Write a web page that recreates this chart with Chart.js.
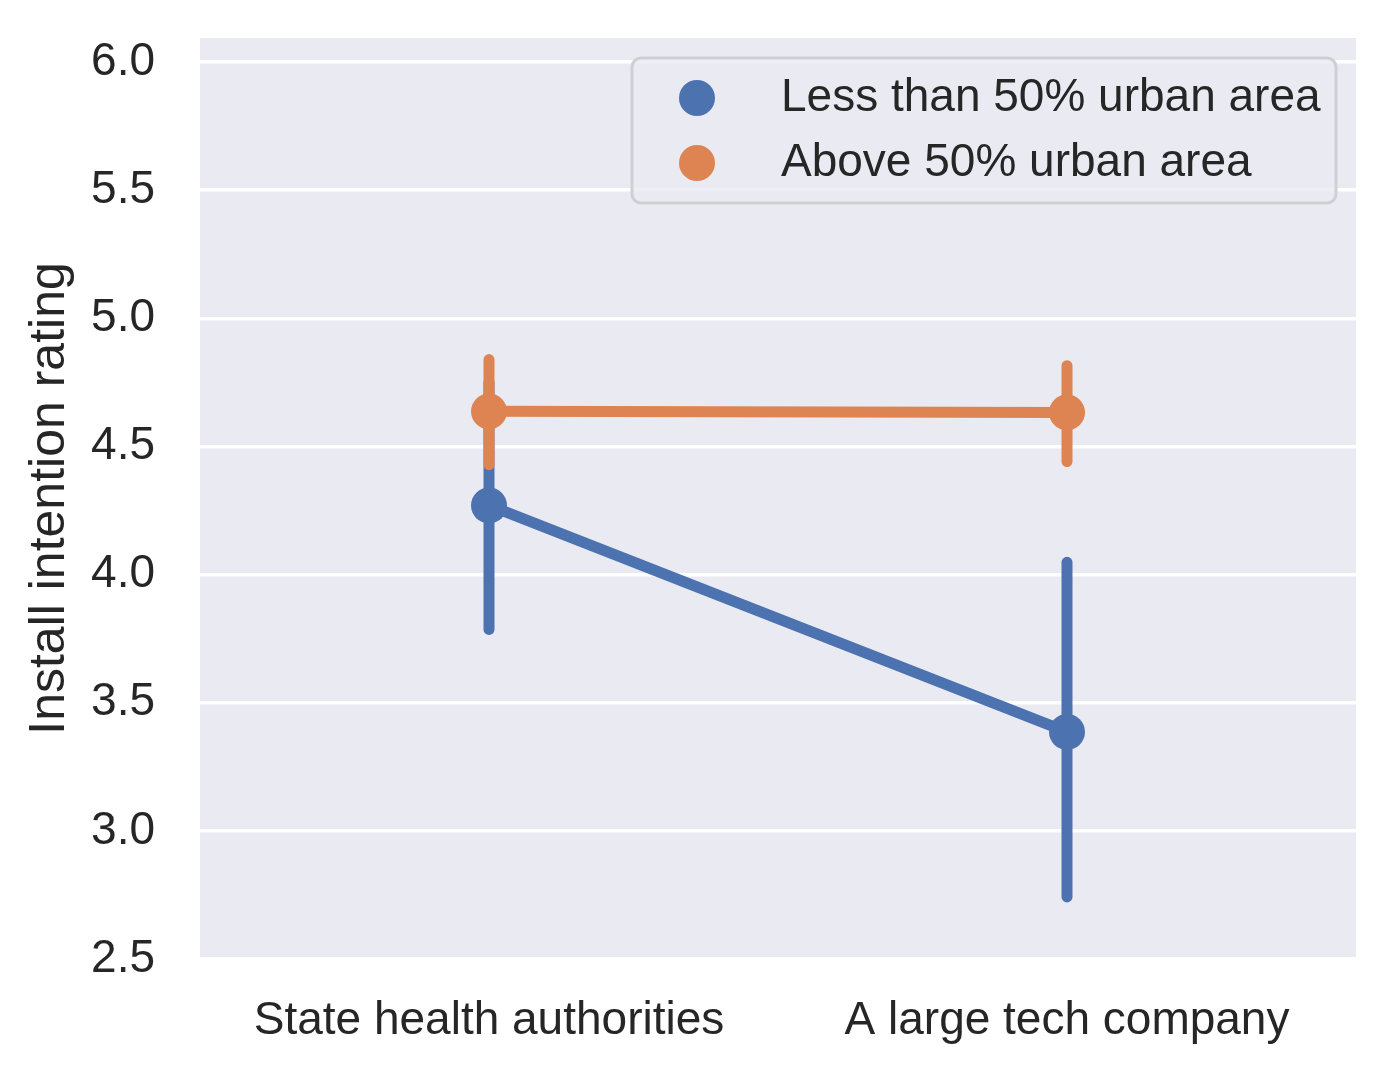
<!DOCTYPE html>
<html>
<head>
<meta charset="utf-8">
<script src="https://cdn.jsdelivr.net/npm/chart.js@4/dist/chart.umd.min.js"></script>
<style>
  html, body { margin: 0; padding: 0; background: #ffffff; }
  #wrap { width: 1395px; height: 1073px; }
</style>
</head>
<body>
<div id="wrap"><canvas id="myChart" width="1395" height="1073"></canvas></div>
<script>
// point estimates + confidence interval ends
const categories = ['State health authorities', 'A large tech company']
const seriesNames = ['Less than 50% urban area', 'Above 50% urban area']
const lessMean = [4.27, 3.386]
const lessLow = [3.786, 2.742]
const lessHigh = [4.75, 4.048]
const aboveMean = [4.637, 4.633]
const aboveLow = [4.429, 4.441]
const aboveHigh = [4.839, 4.815]
const yTicks = [2.5, 3.0, 3.5, 4.0, 4.5, 5.0, 5.5, 6.0]

const BLUE = '#4c72b0'
const ORANGE = '#dd8452'
const INK = '#262626'
const FONT = "'Liberation Sans', Arial, sans-serif"

const ctx = document.getElementById('myChart')

// one little vertical line per category for the error bars
function errorSets(low, high, color, order) {
  return categories.map((cat, i) => ({
    label: '_err',
    data: [{ x: cat, y: low[i] }, { x: cat, y: high[i] }],
    borderColor: color,
    borderWidth: 11,
    borderCapStyle: 'round',
    pointRadius: 0,
    pointHoverRadius: 0,
    order: order
  }))
}

function mainSet(name, values, color, order) {
  return {
    label: name,
    data: values,
    borderColor: color,
    backgroundColor: color,
    borderWidth: 11,
    pointRadius: 18,
    pointHoverRadius: 18,
    pointBorderWidth: 0,
    pointBackgroundColor: color,
    order: order
  }
}

const bgPlugin = {
  id: 'bg',
  beforeDraw(chart) {
    const c = chart.ctx
    const a = chart.chartArea
    c.save()
    c.fillStyle = '#ffffff'
    c.fillRect(0, 0, chart.width, chart.height)
    c.fillStyle = '#eaeaf2'
    c.fillRect(a.left, a.top, a.right - a.left, a.bottom - a.top)
    c.restore()
  }
}

// seaborn style legend box in the upper right corner
const legendPlugin = {
  id: 'boxLegend',
  afterDraw(chart) {
    const c = chart.ctx
    const a = chart.chartArea
    const w = 704, h = 145
    const left = a.right - 20 - w
    const top = a.top + 20
    c.save()
    c.beginPath()
    c.roundRect(left, top, w, h, 9)
    c.fillStyle = 'rgba(234,234,242,0.8)'
    c.fill()
    c.lineWidth = 3
    c.strokeStyle = '#cfcfd3'
    c.stroke()
    const items = chart.data.datasets.filter((d) => d.label !== '_err')
    items.forEach((d, i) => {
      const y = top + 40 + i * 65
      c.beginPath()
      c.arc(left + 65, y, 18, 0, Math.PI * 2)
      c.fillStyle = d.borderColor
      c.fill()
      c.fillStyle = INK
      c.font = '46px ' + FONT
      c.textBaseline = 'middle'
      c.textAlign = 'left'
      c.fillText(d.label, left + 149, y)
    })
    c.restore()
  }
}

const data = {
  labels: categories,
  datasets: [
    mainSet(seriesNames[0], lessMean, BLUE, 2),
    mainSet(seriesNames[1], aboveMean, ORANGE, 0),
    ...errorSets(lessLow, lessHigh, BLUE, 3),
    ...errorSets(aboveLow, aboveHigh, ORANGE, 1)
  ]
}

const options = {
  responsive: false,
  devicePixelRatio: 1,
  animation: false,
  events: [],
  layout: { padding: { top: 38, right: 39, left: 0, bottom: 0 } },
  scales: {
    x: {
      type: 'category',
      offset: true,
      grid: { display: false },
      border: { display: false },
      ticks: { color: INK, font: { size: 46, family: FONT }, padding: 27 },
      afterFit: (s) => { s.height = 114 }
    },
    y: {
      type: 'linear',
      min: 2.5,
      max: 6.094,
      grid: { color: '#ffffff', lineWidth: 3.5, drawTicks: false },
      border: { display: false },
      ticks: {
        color: INK,
        font: { size: 46, family: FONT },
        padding: 45,
        callback: (v) => Number(v).toFixed(1)
      },
      afterBuildTicks: (s) => { s.ticks = yTicks.map((v) => ({ value: v })) },
      afterFit: (s) => {
        s.width = 200
        // tick padding would otherwise push the plot area down
        s.paddingTop = 0
        s.paddingBottom = 0
      },
      title: {
        display: true,
        text: 'Install intention rating',
        color: INK,
        font: { size: 50, family: FONT },
        padding: { top: 20, bottom: 0 }
      }
    }
  },
  plugins: {
    legend: { display: false },
    tooltip: { enabled: false }
  }
}

new Chart(ctx, {
  type: 'line',
  data,
  options,
  plugins: [bgPlugin, legendPlugin]
})
</script>
</body>
</html>
